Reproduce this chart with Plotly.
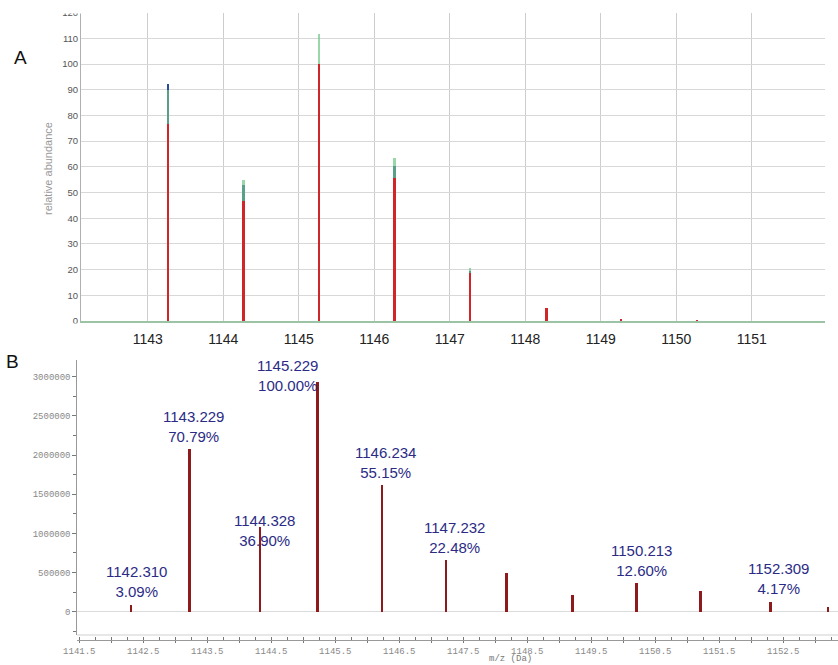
import plotly.graph_objects as go

# ---------------- data ----------------
# Panel A: isotope pattern (relative abundance), three overlaid series
a_mz = [1143.27, 1144.27, 1145.27, 1146.27, 1147.27, 1148.28, 1149.27, 1150.27, 1151.27]
a_blue = [92.2, 53.0, 99.0, 60.5, 19.6, 5.0, 1.0, 0.3, 0.1]
a_green = [90.0, 55.1, 112.0, 63.7, 20.9, 5.0, 1.0, 0.3, 0.1]
a_red = [76.9, 47.0, 100.0, 55.9, 18.8, 5.2, 1.1, 0.3, 0.1]
a_xticks = [1143, 1144, 1145, 1146, 1147, 1148, 1149, 1150, 1151]

# Panel B: measured spectrum (intensity)
b_mz = [1142.310, 1143.229, 1144.328, 1145.229, 1146.234, 1147.232,
        1148.18, 1149.21, 1150.213, 1151.21, 1152.309, 1153.20]
b_int = [90700, 2078000, 1083000, 2936000, 1619000, 660000,
         494000, 217000, 370000, 264000, 122000, 64000]
label_idx = [0, 1, 2, 3, 4, 5, 8, 10]
label_mz = ["1142.310", "1143.229", "1144.328", "1145.229", "1146.234",
            "1147.232", "1150.213", "1152.309"]
label_pct = ["3.09%", "70.79%", "36.90%", "100.00%", "55.15%",
             "22.48%", "12.60%", "4.17%"]

# ---------------- layout helpers ----------------
W, H = 838, 665
def px(x):
    return x / W
def py(y):
    return 1 - y / H

fig = go.Figure()

for vals, col in [(a_blue, "#2a4a9c"), (a_green, "rgba(110,196,132,0.7)"), (a_red, "#d0262a")]:
    fig.add_trace(go.Bar(x=a_mz, y=vals, width=0.03, marker=dict(color=col, line_width=0),
                         xaxis="x", yaxis="y", showlegend=False, hoverinfo="x+y"))

fig.add_trace(go.Bar(x=b_mz, y=b_int, width=0.04, marker=dict(color="#8e1b1b", line_width=0),
                     xaxis="x2", yaxis="y2", showlegend=False))

label_dx = [5, 4, 4, -30, 3, 8, 5, 7]
label_dy = [3, 2, -24, -14, 2, 2, 2, 3]
annotations = []
for k, i in enumerate(label_idx):
    annotations.append(dict(
        x=b_mz[i], y=b_int[i], xref="x2", yref="y2",
        text=f"{label_mz[k]}<br>{label_pct[k]}", showarrow=False,
        xanchor="center", yanchor="bottom", xshift=label_dx[k], yshift=label_dy[k],
        font=dict(family="Liberation Sans, Arial", size=15, color="#2b2b85")))

annotations += [
    dict(x=px(20.5), y=py(57), xref="paper", yref="paper", text="A", showarrow=False,
         xanchor="center", yanchor="middle", font=dict(family="Liberation Sans, Arial", size=19, color="#111")),
    dict(x=px(12.5), y=py(361), xref="paper", yref="paper", text="B", showarrow=False,
         xanchor="center", yanchor="middle", font=dict(family="Liberation Sans, Arial", size=19, color="#111")),
    dict(x=px(48), y=py(169), xref="paper", yref="paper", text="relative abundance", showarrow=False,
         textangle=-90, xanchor="center", yanchor="middle",
         font=dict(family="Liberation Sans, Arial", size=11, color="#999")),
    dict(x=px(510), y=0, xref="paper", yref="paper", text="m/z (Da)", showarrow=False,
         xanchor="center", yanchor="bottom", borderpad=0,
         font=dict(family="Liberation Mono, Courier New", size=9, color="#777")),
    # white masks reproducing the clipped edges of panel A in the original
    dict(x=px(58), y=1, xref="paper", yref="paper", text=" ", showarrow=False,
         xanchor="left", yanchor="top", width=22, height=12, bgcolor="white", borderpad=0),
    dict(x=px(58), y=py(322.5), xref="paper", yref="paper", text=" ", showarrow=False,
         xanchor="left", yanchor="top", width=22, height=8, bgcolor="white", borderpad=0),
]

shapes = [
    # frame line at bottom of panel B plot area
    dict(type="line", xref="paper", yref="paper", x0=px(77.3), x1=1, y0=py(635), y1=py(635),
         line=dict(color="#cfcfcf", width=1)),
]

fig.update_layout(
    width=W, height=H, margin=dict(l=0, r=0, t=0, b=0),
    paper_bgcolor="white", plot_bgcolor="white",
    barmode="overlay", bargap=0,
    xaxis=dict(domain=[px(81), px(825)], range=[1142.117, 1151.97], anchor="y",
               tickmode="array", tickvals=a_xticks, showgrid=True, gridcolor="#cdcdcd", gridwidth=1,
               showline=True, linecolor="#9cc4a4", linewidth=1.5, zeroline=False,
               ticks="outside", ticklen=4, tickcolor="rgba(0,0,0,0)",
               tickfont=dict(family="Liberation Sans, Arial", size=14, color="#222"), automargin=False),
    yaxis=dict(domain=[py(321), py(12.6)], range=[0, 120], anchor="x", dtick=10, tick0=0,
               showgrid=True, gridcolor="#d8d8d8", gridwidth=1, showline=True, linecolor="#b0b0b0",
               zeroline=False, tickfont=dict(family="Liberation Sans, Arial", size=9.5, color="#555"),
               automargin=False),
    xaxis2=dict(domain=[px(77.3), 1], range=[1141.469, 1153.355], anchor="free", position=py(640),
                tick0=1141.5, dtick=0.5, ticklabelstep=2, tickformat=".1f",
                ticks="outside", ticklen=2, tickcolor="#777", showline=True, linecolor="#999",
                showgrid=False, zeroline=False,
                minor=dict(dtick=0.25, tick0=1141.5, ticks="inside", ticklen=3, tickcolor="#777"),
                tickfont=dict(family="Liberation Mono, Courier New", size=9, color="#888"),
                automargin=False),
    yaxis2=dict(domain=[py(635), py(360)], range=[-297500, 3213000], anchor="x2",
                tick0=0, dtick=500000, tickformat="d", ticks="outside", ticklen=4, tickcolor="#777",
                minor=dict(dtick=250000, ticks="outside", ticklen=3, tickcolor="#777"),
                showline=True, linecolor="#999", showgrid=False,
                zeroline=True, zerolinecolor="#dcdcdc", zerolinewidth=1,
                tickfont=dict(family="Liberation Mono, Courier New", size=9, color="#888"),
                automargin=False),
    annotations=annotations, shapes=shapes,
)

fig.write_html("out.html", config={"displayModeBar": False},
               post_script="document.body.style.margin='0';document.body.style.padding='0';"
                           "document.body.style.overflow='hidden';")
